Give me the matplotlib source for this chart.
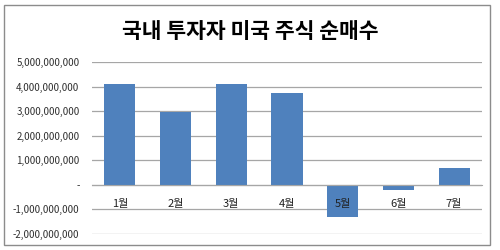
import matplotlib
matplotlib.use("Agg")
import matplotlib.pyplot as plt
from matplotlib.patches import Rectangle
from matplotlib.ticker import FuncFormatter

plt.rcParams['font.family'] = ['Noto Sans CJK KR', 'DejaVu Sans']

# monthly net purchases of US stocks by domestic investors (KRW-ish units)
months = ['1월', '2월', '3월', '4월', '5월', '6월', '7월']
net_buy = [4090000000, 2970000000, 4100000000, 3730000000, -1290000000, -200000000, 680000000]
y_ticks = [-2000000000, -1000000000, 0, 1000000000, 2000000000, 3000000000, 4000000000, 5000000000]

bar_color = '#4f81bd'
grid_color = '#a6a6a6'


def fmt(v, pos):
    if v == 0:
        return '-'
    return '{:,.0f}'.format(v)


fig = plt.figure(figsize=(5, 2.5), dpi=100)
ax = fig.add_axes([0.184, 0.064, 0.78, 0.688])

x = range(len(months))
ax.bar(x, net_buy, width=0.56, color=bar_color, zorder=3)

ax.set_ylim(-2000000000, 5000000000)
ax.set_xlim(-0.5, len(months) - 0.5)
ax.set_yticks(y_ticks)
ax.yaxis.set_major_formatter(FuncFormatter(fmt))
ax.grid(axis='y', color=grid_color, linewidth=0.9, zorder=0)
ax.tick_params(axis='y', length=0, labelsize=7, colors='#303030', pad=9)

# month labels sit just under the zero line, like excel -> drawn over bars
ax.spines['bottom'].set_position(('data', 0))
ax.spines['bottom'].set_color(grid_color)
ax.spines['bottom'].set_zorder(4)
for s in ['top', 'right', 'left']:
    ax.spines[s].set_visible(False)
ax.set_xticks(list(x))
ax.set_xticklabels(months)
ax.tick_params(axis='x', length=0, labelsize=8, colors='#202020', pad=10)
ax.xaxis.set_zorder(5)

fig.text(0.5, 0.875, '국내 투자자 미국 주식 순매수', ha='center', va='center',
         fontsize=15.5, fontweight='bold')

# outer chart frame
fig.patches.append(Rectangle((0.008, 0.02), 0.972, 0.96, transform=fig.transFigure,
                             fill=False, edgecolor='#8c8c8c', linewidth=1))

fig.savefig('out.png', dpi=100)
